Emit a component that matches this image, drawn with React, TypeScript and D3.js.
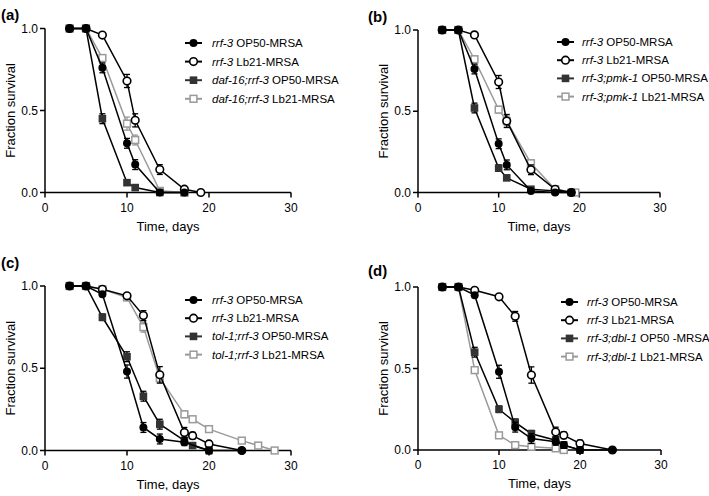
import React from 'react';
import * as d3 from 'd3';

const xTicks = [0, 10, 20, 30];
const yTicks = [0, 0.5, 1];
const yTickLabels = ['0.0', '0.5', '1.0'];
const xTitle = 'Time, days';
const yTitle = 'Fraction survival';

// ---------- Panel (a) ----------
const aFilledDays = [3, 5, 7, 10, 11, 14, 17];
const aFilledSurv = [1, 1, 0.76, 0.30, 0.17, 0.0, 0.0];
const aFilledErr = [0, 0, 0.03, 0.03, 0.03, 0, 0];
const aOpenDays = [3, 5, 7, 10, 11, 14, 17, 19];
const aOpenSurv = [1, 1, 0.96, 0.68, 0.44, 0.14, 0.02, 0.0];
const aOpenErr = [0, 0, 0.01, 0.04, 0.04, 0.03, 0.01, 0];
const aDarkDays = [3, 5, 7, 10, 11, 14, 17];
const aDarkSurv = [1, 1, 0.45, 0.06, 0.03, 0.0, 0.0];
const aDarkErr = [0, 0, 0.03, 0.01, 0.01, 0, 0];
const aGreyDays = [3, 5, 7, 10, 11, 14, 17];
const aGreySurv = [1, 1, 0.82, 0.42, 0.32, 0.01, 0.0];
const aGreyErr = [0, 0, 0.02, 0.04, 0.03, 0.01, 0];
const aLabels = [['rrf-3', ' OP50-MRSA'], ['rrf-3', ' Lb21-MRSA'], ['daf-16;rrf-3', ' OP50-MRSA'], ['daf-16;rrf-3', ' Lb21-MRSA']];

// ---------- Panel (b) ----------
const bFilledDays = [3, 5, 7, 10, 11, 14, 17, 19];
const bFilledSurv = [1, 1, 0.76, 0.30, 0.17, 0.01, 0.0, 0.0];
const bFilledErr = [0, 0, 0.03, 0.03, 0.03, 0.01, 0, 0];
const bOpenDays = [3, 5, 7, 10, 11, 14, 17, 19];
const bOpenSurv = [1, 1, 0.97, 0.68, 0.44, 0.14, 0.02, 0.0];
const bOpenErr = [0, 0, 0.01, 0.04, 0.04, 0.03, 0.01, 0];
const bDarkDays = [3, 5, 7, 10, 11, 14, 17, 19];
const bDarkSurv = [1, 1, 0.52, 0.15, 0.09, 0.02, 0.01, 0.0];
const bDarkErr = [0, 0, 0.03, 0.02, 0.01, 0.01, 0, 0];
const bGreyDays = [3, 5, 7, 10, 11, 14, 17, 19.5];
const bGreySurv = [1, 1, 0.82, 0.51, 0.44, 0.18, 0.02, 0.0];
const bGreyErr = [0, 0, 0.02, 0.02, 0.03, 0.02, 0.01, 0];
const bLabels = [['rrf-3', ' OP50-MRSA'], ['rrf-3', ' Lb21-MRSA'], ['rrf-3;pmk-1', ' OP50-MRSA'], ['rrf-3;pmk-1', ' Lb21-MRSA']];

// ---------- Panel (c) ----------
const cFilledDays = [3, 5, 7, 10, 12, 14, 17, 20, 24];
const cFilledSurv = [1, 1, 0.95, 0.48, 0.14, 0.07, 0.05, 0.0, 0.0];
const cFilledErr = [0, 0, 0.01, 0.04, 0.03, 0.03, 0.02, 0.02, 0];
const cOpenDays = [3, 5, 7, 10, 12, 14, 17, 18, 20, 24];
const cOpenSurv = [1, 1, 0.98, 0.94, 0.82, 0.46, 0.11, 0.09, 0.04, 0.0];
const cOpenErr = [0, 0, 0.01, 0.01, 0.03, 0.05, 0.03, 0.02, 0.02, 0];
const cDarkDays = [3, 5, 7, 10, 12, 14, 17, 18, 20];
const cDarkSurv = [1, 1, 0.81, 0.57, 0.33, 0.16, 0.06, 0.03, 0.0];
const cDarkErr = [0, 0, 0.02, 0.03, 0.03, 0.03, 0.02, 0.01, 0];
const cGreyDays = [3, 5, 7, 10, 12, 14, 17, 18, 20, 24, 26, 28];
const cGreySurv = [1, 1, 0.98, 0.93, 0.75, 0.44, 0.22, 0.19, 0.13, 0.06, 0.03, 0.0];
const cGreyErr = [0, 0, 0.01, 0.01, 0.03, 0.03, 0.02, 0.01, 0.01, 0.01, 0, 0];
const cLabels = [['rrf-3', ' OP50-MRSA'], ['rrf-3', ' Lb21-MRSA'], ['tol-1;rrf-3', ' OP50-MRSA'], ['tol-1;rrf-3', ' Lb21-MRSA']];

// ---------- Panel (d) ----------
const dFilledDays = [3, 5, 7, 10, 12, 14, 17, 18, 20, 24];
const dFilledSurv = [1, 1, 0.95, 0.48, 0.14, 0.07, 0.05, 0.03, 0.0, 0.0];
const dFilledErr = [0, 0, 0.01, 0.04, 0.03, 0.03, 0.02, 0.02, 0.02, 0];
const dOpenDays = [3, 5, 7, 10, 12, 14, 17, 18, 20, 24];
const dOpenSurv = [1, 1, 0.98, 0.94, 0.82, 0.46, 0.11, 0.09, 0.04, 0.0];
const dOpenErr = [0, 0, 0.01, 0.01, 0.03, 0.05, 0.03, 0.02, 0.02, 0];
const dDarkDays = [3, 5, 7, 10, 12, 14, 17, 18, 20];
const dDarkSurv = [1, 1, 0.60, 0.25, 0.17, 0.10, 0.06, 0.03, 0.0];
const dDarkErr = [0, 0, 0.03, 0.02, 0.02, 0.02, 0.02, 0.01, 0];
const dGreyDays = [3, 5, 7, 10, 12, 14, 17, 18];
const dGreySurv = [1, 1, 0.49, 0.09, 0.03, 0.02, 0.01, 0.0];
const dGreyErr = [0, 0, 0.02, 0.01, 0.01, 0.01, 0.01, 0];
const dLabels = [['rrf-3', ' OP50-MRSA'], ['rrf-3', ' Lb21-MRSA'], ['rrf-3;dbl-1', ' OP50 -MRSA'], ['rrf-3;dbl-1', ' Lb21-MRSA']];

type Kind = 'filled' | 'open' | 'dark' | 'grey';
interface Series { kind: Kind; days: number[]; surv: number[]; err: number[] }

const GREY = '#9a9a9a';
const DARK = '#333333';
const FONT = '"Liberation Sans", Arial, sans-serif';

function mk(kind: Kind, days: number[], surv: number[], err: number[]): Series {
  return { kind, days, surv, err };
}

function lineColor(k: Kind) {
  return k === 'grey' ? GREY : '#000';
}

function Marker({ kind, x, y }: { kind: Kind; x: number; y: number }) {
  if (kind === 'filled') return <circle cx={x} cy={y} r={4} fill="#000" />;
  if (kind === 'open') return <circle cx={x} cy={y} r={3.8} fill="#fff" stroke="#000" strokeWidth={1.6} />;
  if (kind === 'dark') return <rect x={x - 3.8} y={y - 3.8} width={7.6} height={7.6} fill={DARK} />;
  return <rect x={x - 3.4} y={y - 3.4} width={6.8} height={6.8} fill="#fff" stroke={GREY} strokeWidth={1.5} />;
}

interface PanelProps {
  label: string; labelX: number; labelY: number;
  left: number; right: number; top: number; bottom: number;
  series: Series[]; labels: string[][];
  legX: number; legY: number; legTextX: number; legStep: number;
}

function Panel(p: PanelProps) {
  const x = d3.scaleLinear().domain([0, 30]).range([p.left, p.right]);
  const y = d3.scaleLinear().domain([0, 1]).range([p.bottom, p.top]);
  const line = d3.line<[number, number]>().x(d => x(d[0])).y(d => y(d[1]));
  const order: Kind[] = ['grey', 'dark', 'open', 'filled'];
  const legendOrder: Kind[] = ['filled', 'open', 'dark', 'grey'];
  const byKind = (k: Kind) => p.series.find(s => s.kind === k)!;
  return (
    <g>
      <text x={p.labelX} y={p.labelY} fontFamily={FONT} fontWeight="bold" fontSize={15}>{p.label}</text>
      {/* axes */}
      <line x1={x(0)} x2={x(30)} y1={y(0)} y2={y(0)} stroke="#000" strokeWidth={1.5} />
      <line x1={x(0)} x2={x(0)} y1={y(0)} y2={y(1)} stroke="#000" strokeWidth={1.5} />
      {xTicks.map(t => (
        <g key={'x' + t}>
          <line x1={x(t)} x2={x(t)} y1={y(0)} y2={y(0) + 5} stroke="#000" strokeWidth={1.5} />
          <text x={x(t)} y={y(0) + 19} textAnchor="middle" fontFamily={FONT} fontSize={12}>{t}</text>
        </g>
      ))}
      {yTicks.map((t, i) => (
        <g key={'y' + t}>
          <line x1={x(0) - 5} x2={x(0)} y1={y(t)} y2={y(t)} stroke="#000" strokeWidth={1.5} />
          <text x={x(0) - 7} y={y(t) + 4.2} textAnchor="end" fontFamily={FONT} fontSize={12}>{yTickLabels[i]}</text>
        </g>
      ))}
      <text x={(p.left + p.right) / 2} y={p.bottom + 38} textAnchor="middle" fontFamily={FONT} fontSize={13}>{xTitle}</text>
      <text transform={`translate(${p.left - 30},${(p.top + p.bottom) / 2}) rotate(-90)`} textAnchor="middle" fontFamily={FONT} fontSize={13}>{yTitle}</text>
      {/* series */}
      {order.map(k => {
        const s = byKind(k);
        const pts = s.days.map((d, i) => [d, s.surv[i]] as [number, number]);
        const c = lineColor(k);
        return (
          <g key={k}>
            <path d={line(pts) || ''} fill="none" stroke={c} strokeWidth={1.5} />
            {s.days.map((d, i) => s.err[i] > 0 ? (
              <g key={i}>
                <line x1={x(d)} x2={x(d)} y1={y(s.surv[i] - s.err[i])} y2={y(s.surv[i] + s.err[i])} stroke={c} strokeWidth={1.3} />
                <line x1={x(d) - 3} x2={x(d) + 3} y1={y(s.surv[i] - s.err[i])} y2={y(s.surv[i] - s.err[i])} stroke={c} strokeWidth={1.3} />
                <line x1={x(d) - 3} x2={x(d) + 3} y1={y(s.surv[i] + s.err[i])} y2={y(s.surv[i] + s.err[i])} stroke={c} strokeWidth={1.3} />
              </g>
            ) : null)}
            {s.days.map((d, i) => <Marker key={'m' + i} kind={k} x={x(d)} y={y(s.surv[i])} />)}
          </g>
        );
      })}
      {/* legend */}
      {legendOrder.map((k, i) => {
        const cy = p.legY + i * p.legStep;
        const c = lineColor(k);
        return (
          <g key={'l' + k}>
            <line x1={p.legX} x2={p.legX + 17} y1={cy} y2={cy} stroke={k === 'dark' ? DARK : c} strokeWidth={2} />
            <Marker kind={k} x={p.legX + 8.5} y={cy} />
            <text x={p.legTextX} y={cy + 4} fontFamily={FONT} fontSize={11.5}>
              <tspan fontStyle="italic">{p.labels[i][0]}</tspan>
              <tspan>{p.labels[i][1]}</tspan>
            </text>
          </g>
        );
      })}
    </g>
  );
}

export default function App() {
  const panels: PanelProps[] = [
    {
      label: '(a)', labelX: 1, labelY: 20, left: 45, right: 291, top: 28.5, bottom: 192.5,
      series: [mk('filled', aFilledDays, aFilledSurv, aFilledErr), mk('open', aOpenDays, aOpenSurv, aOpenErr), mk('dark', aDarkDays, aDarkSurv, aDarkErr), mk('grey', aGreyDays, aGreySurv, aGreyErr)],
      labels: aLabels, legX: 185, legY: 43, legTextX: 212, legStep: 18.6,
    },
    {
      label: '(b)', labelX: 368, labelY: 22, left: 418, right: 660, top: 30, bottom: 192.5,
      series: [mk('filled', bFilledDays, bFilledSurv, bFilledErr), mk('open', bOpenDays, bOpenSurv, bOpenErr), mk('dark', bDarkDays, bDarkSurv, bDarkErr), mk('grey', bGreyDays, bGreySurv, bGreyErr)],
      labels: bLabels, legX: 557, legY: 42, legTextX: 582, legStep: 18.2,
    },
    {
      label: '(c)', labelX: 1, labelY: 268, left: 45, right: 291, top: 286, bottom: 450.5,
      series: [mk('filled', cFilledDays, cFilledSurv, cFilledErr), mk('open', cOpenDays, cOpenSurv, cOpenErr), mk('dark', cDarkDays, cDarkSurv, cDarkErr), mk('grey', cGreyDays, cGreySurv, cGreyErr)],
      labels: cLabels, legX: 185, legY: 300, legTextX: 212, legStep: 18.2,
    },
    {
      label: '(d)', labelX: 368, labelY: 276, left: 418, right: 661, top: 287, bottom: 450,
      series: [mk('filled', dFilledDays, dFilledSurv, dFilledErr), mk('open', dOpenDays, dOpenSurv, dOpenErr), mk('dark', dDarkDays, dDarkSurv, dDarkErr), mk('grey', dGreyDays, dGreySurv, dGreyErr)],
      labels: dLabels, legX: 561, legY: 302, legTextX: 587, legStep: 18.2,
    },
  ];
  return (
    <svg width={709} height={496} style={{ position: 'absolute', left: 0, top: 0, background: '#fff' }}>
      <rect x={0} y={0} width={709} height={496} fill="#fff" />
      {panels.map(p => <Panel key={p.label} {...p} />)}
    </svg>
  );
}
